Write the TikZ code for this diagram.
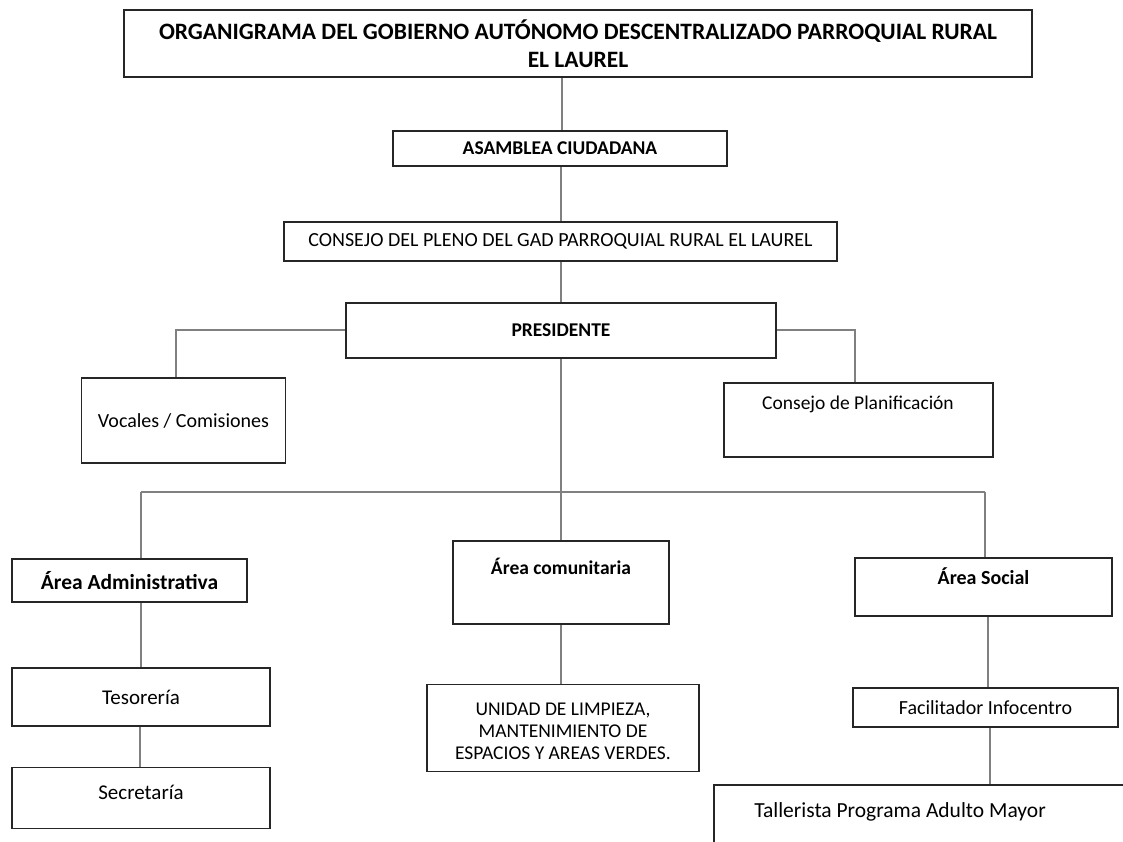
\documentclass[tikz,border=0pt]{standalone}
\usepackage{fontspec}
\setmainfont{Carlito}
\begin{document}
\begin{tikzpicture}[x=1pt,y=-1pt,
  box/.style={draw=black!85, line width=1.6pt, fill=white, inner sep=0pt, align=center},
  conn/.style={draw=black!50, line width=1.3pt},
  txt/.style={inner sep=0pt, align=center}]
\useasboundingbox (0,0) rectangle (1123,842);
% title
\node[box, minimum width=908pt, minimum height=67pt, font=\fontsize{23.5}{28}\selectfont\bfseries] (title) at (578,43.5)
  {ORGANIGRAMA DEL GOBIERNO AUTÓNOMO DESCENTRALIZADO PARROQUIAL RURAL\\EL LAUREL};
\node[box, minimum width=334pt, minimum height=35pt, font=\fontsize{19.5}{20}\selectfont\bfseries] (asam) at (560,148.5) {ASAMBLEA CIUDADANA};
\node[box, minimum width=553pt, minimum height=39pt, font=\fontsize{20}{20}\selectfont] (pleno) at (560.5,241.5) {CONSEJO DEL PLENO DEL GAD PARROQUIAL RURAL EL LAUREL};
\node[box, minimum width=430pt, minimum height=55pt, font=\fontsize{19.5}{20}\selectfont\bfseries] (pres) at (561,330.5) {PRESIDENTE};
\node[box, minimum width=204pt, minimum height=85pt, font=\fontsize{20}{20}\selectfont] (voc) at (183.5,420.5) {Vocales / Comisiones};
\node[box, minimum width=269pt, minimum height=74pt] (plan) at (858.5,420) {};
\node[txt, font=\fontsize{19.5}{20}\selectfont] (planT) at (858,404) {Consejo de Planificación};
% areas
\node[box, minimum width=235pt, minimum height=43pt, font=\fontsize{21.5}{22}\selectfont\bfseries] (admin) at (129.5,580.5) {Área Administrativa};
\node[box, minimum width=216pt, minimum height=83pt] (comun) at (561,582.5) {};
\node[txt, font=\fontsize{19.5}{20}\selectfont\bfseries] (comunT) at (561,566) {Área comunitaria};
\node[box, minimum width=257pt, minimum height=58pt] (social) at (983.5,587) {};
\node[txt, font=\fontsize{20}{20}\selectfont\bfseries] (socialT) at (983.5,576) {Área Social};
% lower
\node[box, minimum width=258pt, minimum height=58pt, font=\fontsize{21}{20}\selectfont] (teso) at (141,697) {Tesorería};
\node[box, minimum width=258pt, minimum height=61pt] (secr) at (141,798) {};
\node[txt, font=\fontsize{21}{20}\selectfont] (secrT) at (141,792) {Secretaría};
\node[box, minimum width=272pt, minimum height=87pt] (unid) at (563,728) {};
\node[txt, font=\fontsize{19.5}{22}\selectfont] (unidT) at (563,731) {UNIDAD DE LIMPIEZA,\\MANTENIMIENTO DE\\ESPACIOS Y AREAS VERDES.};
\node[box, minimum width=265pt, minimum height=39pt, font=\fontsize{20}{20}\selectfont] (facil) at (985.5,707.5) {Facilitador Infocentro};
\node[box, minimum width=416pt, minimum height=65pt] (tall) at (922,817.5) {};
\node[txt, font=\fontsize{21.5}{24}\selectfont] (tallT) at (900,812) {Tallerista Programa Adulto Mayor};
% connectors
\coordinate (busL) at (141,492);
\coordinate (busC) at (561,492);
\coordinate (busR) at (985,492);
\draw[conn] (title.south -| 562,0) -- (asam.north -| 562,0);
\draw[conn] (asam.south -| 561,0) -- (pleno.north -| 561,0);
\draw[conn] (pleno.south -| 561,0) -- (pres.north -| 561,0);
\draw[conn] (pres.west |- 0,330) -| (voc.north -| 176,0);
\draw[conn] (pres.east |- 0,330) -| (plan.north -| 855,0);
\draw[conn] (pres.south -| busC) -- (busC);
\draw[conn] (busL) -- (busR);
\draw[conn] (busL) -- (admin.north -| busL);
\draw[conn] (busC) -- (comun.north);
\draw[conn] (busR) -- (social.north -| busR);
\draw[conn] (admin.south -| busL) -- (teso.north -| busL);
\draw[conn] (teso.south -| 140,0) -- (secr.north -| 140,0);
\draw[conn] (comun.south) -- (unid.north -| comun.south);
\draw[conn] (social.south -| 988,0) -- (facil.north -| 988,0);
\draw[conn] (facil.south -| 990,0) -- (tall.north -| 990,0);
\end{tikzpicture}
\end{document}
